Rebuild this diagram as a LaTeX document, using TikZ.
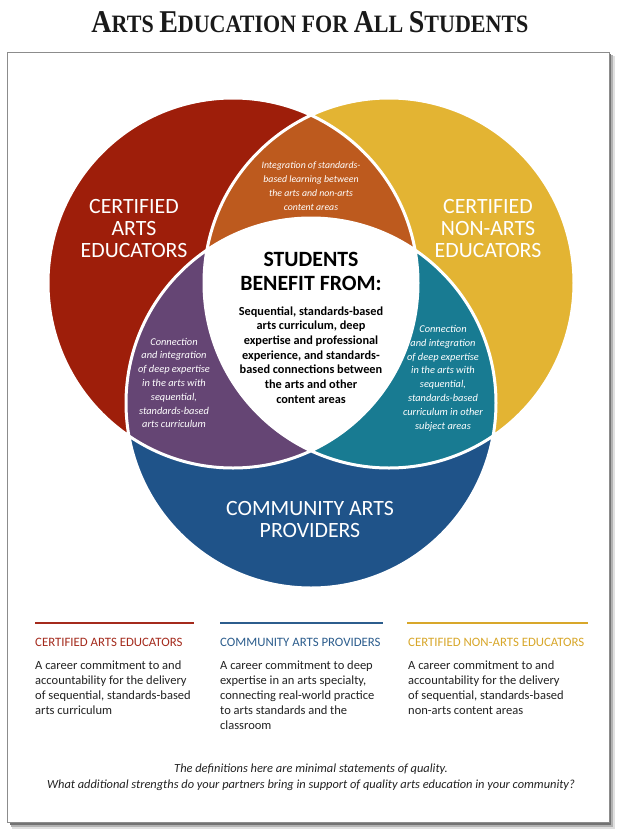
\documentclass[tikz,border=0pt]{standalone}
\usepackage{fontspec}
\setmainfont{Carlito}
\newfontfamily\titlefont{Liberation Serif}
\definecolor{cred}{HTML}{9E1E0A}
\definecolor{cyel}{HTML}{E3B433}
\definecolor{cblu}{HTML}{1F5389}
\definecolor{corg}{HTML}{BD5A1E}
\definecolor{cpur}{HTML}{654574}
\definecolor{cteal}{HTML}{187B92}
\definecolor{hred}{HTML}{A42A1C}
\definecolor{hblu}{HTML}{2C5D8D}
\definecolor{hyel}{HTML}{D8A72A}
\definecolor{btext}{HTML}{222222}
\tikzset{
  biglabel/.style={text=white, align=center, font=\fontsize{21.8}{22}\selectfont},
  smallit/.style={text=white, align=center, font=\fontsize{10.4}{13.8}\selectfont\itshape},
  headtxt/.style={anchor=west, inner sep=0pt, font=\fontsize{12.8}{14}\selectfont},
  bodytxt/.style={anchor=north west, inner sep=0pt, align=left, text=btext, font=\fontsize{12.5}{15}\selectfont},
  rulestyle/.style={line width=2pt}
}
\begin{document}
\begin{tikzpicture}[x=1pt,y=-1pt]
\useasboundingbox (0,0) rectangle (621,833);
% title
\node[inner sep=0pt, text=black!90] (title) at (310,22) {\resizebox{437pt}{21pt}{\titlefont\bfseries
  {\fontsize{33}{33}\selectfont A}{\fontsize{26}{26}\selectfont RTS\ }{\fontsize{33}{33}\selectfont E}{\fontsize{26}{26}\selectfont DUCATION FOR\ }{\fontsize{33}{33}\selectfont A}{\fontsize{26}{26}\selectfont LL\ }{\fontsize{33}{33}\selectfont S}{\fontsize{26}{26}\selectfont TUDENTS}}};
% frame with shadow
\fill[black!12] (12,56) rectangle (615,829);
\fill[black!30] (11,55) rectangle (613,827);
\fill[black!55] (10,54) rectangle (611,825);
\draw[black!45, fill=white, line width=0.8pt] (7,52) rectangle (609,822);
% circles
\coordinate (cr) at (233,283);
\coordinate (cy) at (389,283);
\coordinate (cb) at (311,403);
\def\R{185pt}
\fill[cred] (cr) circle[radius=\R];
\fill[cyel] (cy) circle[radius=\R];
\fill[cblu] (cb) circle[radius=\R];
\begin{scope}
  \clip (cr) circle[radius=\R];
  \fill[corg] (cy) circle[radius=\R];
  \fill[cpur] (cb) circle[radius=\R];
  \clip (cy) circle[radius=\R];
  \fill[white] (cb) circle[radius=\R];
\end{scope}
\begin{scope}
  \clip (cy) circle[radius=\R];
  \clip (cb) circle[radius=\R];
  \fill[cteal] (cb) circle[radius=\R];
  \clip (cr) circle[radius=\R];
  \fill[white] (cb) circle[radius=\R];
\end{scope}
\draw[white, line width=3pt] (cr) circle[radius=\R] (cy) circle[radius=\R] (cb) circle[radius=\R];
% circle labels
\node[biglabel] (lred) at (134,229) {CERTIFIED\\ARTS\\EDUCATORS};
\node[biglabel] (lyel) at (488,229) {CERTIFIED\\NON-ARTS\\EDUCATORS};
\node[biglabel] (lblu) at (310,519) {COMMUNITY ARTS\\PROVIDERS};
% overlap texts
\node[smallit, font=\fontsize{9.8}{14}\selectfont\itshape] (torg) at (311,186) {Integration of standards-\\based learning between\\the arts and non-arts\\content areas};
\node[smallit] (tpur) at (174,383) {Connection\\and integration\\of deep expertise\\in the arts with\\sequential,\\standards-based\\arts curriculum};
\node[smallit] (tteal) at (443,378) {Connection\\and integration\\of deep expertise\\in the arts with\\sequential,\\standards-based\\curriculum in other\\subject areas};
\node[align=center, font=\fontsize{21.8}{24}\selectfont\bfseries] (thead) at (311,271) {STUDENTS\\BENEFIT FROM:};
\node[align=center, font=\fontsize{12.3}{14.7}\selectfont\bfseries] (tbody) at (311,355) {Sequential, standards-based\\arts curriculum, deep\\expertise and professional\\experience, and standards-\\based connections between\\the arts and other\\content areas};
% bottom columns
\coordinate (r1a) at (35,623); \coordinate (r1b) at (194,623);
\coordinate (r2a) at (220,623); \coordinate (r2b) at (383,623);
\coordinate (r3a) at (407,623); \coordinate (r3b) at (588,623);
\draw[rulestyle, hred] (r1a) -- (r1b);
\draw[rulestyle, hblu] (r2a) -- (r2b);
\draw[rulestyle, hyel] (r3a) -- (r3b);
\node[headtxt, text=hred] (h1) at (35,642) {CERTIFIED ARTS EDUCATORS};
\node[headtxt, text=hblu] (h2) at (220,642) {COMMUNITY ARTS PROVIDERS};
\node[headtxt, text=hyel] (h3) at (408,642) {CERTIFIED NON-ARTS EDUCATORS};
\node[bodytxt] (b1) at (35,660.5) {A career commitment to and\\accountability for the delivery\\of sequential, standards-based\\arts curriculum};
\node[bodytxt] (b2) at (220,660.5) {A career commitment to deep\\expertise in an arts specialty,\\connecting real-world practice\\to arts standards and the\\classroom};
\node[bodytxt] (b3) at (408,660.5) {A career commitment to and\\accountability for the delivery\\of sequential, standards-based\\non-arts content areas};
% footer
\node[align=center, text=btext, font=\fontsize{12.4}{15.5}\selectfont\itshape] (foot) at (311,777) {The definitions here are minimal statements of quality.\\What additional strengths do your partners bring in support of quality arts education in your community?};
\end{tikzpicture}
\end{document}
